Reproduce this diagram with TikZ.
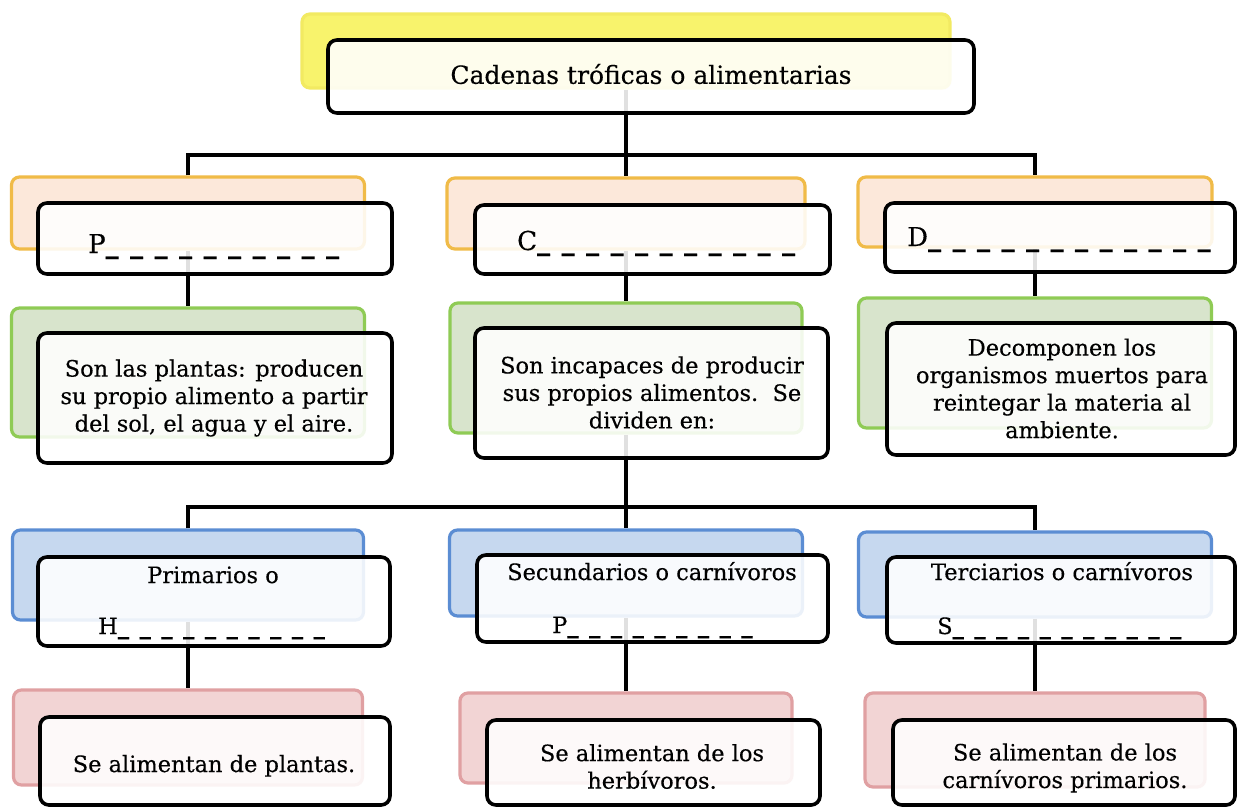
\documentclass[tikz,border=0pt]{standalone}
\usepackage{fontspec}
\setmainfont{DejaVu Serif}[FakeBold=0.35]
\definecolor{yeF}{HTML}{F8F36C}
\definecolor{yeD}{HTML}{F2EA62}
\definecolor{orF}{HTML}{FCE8DA}
\definecolor{orD}{HTML}{F0BB48}
\definecolor{grF}{HTML}{D8E4CC}
\definecolor{grD}{HTML}{8FCB55}
\definecolor{blF}{HTML}{C6D8EF}
\definecolor{blD}{HTML}{5B8DD3}
\definecolor{rdF}{HTML}{F2D4D4}
\definecolor{rdD}{HTML}{E0A0A2}
\newcommand\bigsp{\spaceskip=11.5pt\relax}
\newcommand\smallsp{\spaceskip=10.5pt\relax}
\newcommand\ub{{\bfseries\_}}
\begin{document}
\begin{tikzpicture}[x=1pt,y=-1pt,
  back/.style={line width=3.2pt, rounded corners=8pt, inner sep=0pt},
  front/.style={draw=black, line width=3.6pt, rounded corners=9pt, fill=white, fill opacity=0.88, inner sep=0pt},
  conn/.style={draw=black, line width=3.2pt},
  txt/.style={inner sep=0pt, font=\fontsize{22.5}{27.5}\selectfont, align=center},
  ttl/.style={inner sep=0pt, font=\fontsize{25}{30}\selectfont},
  bigblank/.style={inner sep=0pt, anchor=base west, font=\fontsize{26}{30}\selectfont},
  smallblank/.style={inner sep=0pt, anchor=base west, font=\fontsize{22.5}{27.5}\selectfont}
]
\fill[white] (0,0) rectangle (1238,809);
\path[use as bounding box] (0,0) rectangle (1238,809);

% coloured back boxes
\node[back, draw=yeD, fill=yeF, minimum width=648pt, minimum height=74pt] (y) at (626,51) {};
\node[back, draw=orD, fill=orF, minimum width=353pt, minimum height=72pt] (oL) at (188,213) {};
\node[back, draw=orD, fill=orF, minimum width=358pt, minimum height=71pt] (oM) at (626,213.5) {};
\node[back, draw=orD, fill=orF, minimum width=354pt, minimum height=70pt] (oR) at (1035,212) {};
\node[back, draw=grD, fill=grF, minimum width=353pt, minimum height=129pt] (gL) at (188,372.5) {};
\node[back, draw=grD, fill=grF, minimum width=352pt, minimum height=130pt] (gM) at (626,368) {};
\node[back, draw=grD, fill=grF, minimum width=353pt, minimum height=130pt] (gR) at (1035,363) {};
\node[back, draw=blD, fill=blF, minimum width=351pt, minimum height=90pt] (bL) at (188,575) {};
\node[back, draw=blD, fill=blF, minimum width=353pt, minimum height=86pt] (bM) at (626,573) {};
\node[back, draw=blD, fill=blF, minimum width=353pt, minimum height=85pt] (bR) at (1035,574.5) {};
\node[back, draw=rdD, fill=rdF, minimum width=349pt, minimum height=95pt] (rL) at (188,737.5) {};
\node[back, draw=rdD, fill=rdF, minimum width=332pt, minimum height=90pt] (rM) at (626,738) {};
\node[back, draw=rdD, fill=rdF, minimum width=340pt, minimum height=94pt] (rR) at (1035,740) {};

\coordinate (bar1) at (0,155);
\coordinate (bar2) at (0,507);

% connectors
\draw[conn] (y.south) -- (oM.north);
\draw[conn] (oL.north) -- (oL.north |- bar1) -- (oR.north |- bar1) -- (oR.north);
\draw[conn] (oL.south) -- (gL.north);
\draw[conn] (oM.south) -- (gM.north);
\draw[conn] (oR.south) -- (gR.north);
\draw[conn] (gM.south) -- (bM.north);
\draw[conn] (bL.north) -- (bL.north |- bar2) -- (bR.north |- bar2) -- (bR.north);
\draw[conn] (bL.south) -- (rL.north);
\draw[conn] (bM.south) -- (rM.north);
\draw[conn] (bR.south) -- (rR.north);

% white front boxes
\node[front, minimum width=646pt, minimum height=73pt] (fT) at (651,76.5) {};
\node[front, minimum width=354pt, minimum height=71pt] (fL1) at (215,238.5) {};
\node[front, minimum width=355pt, minimum height=69pt] (fM1) at (652.5,239.5) {};
\node[front, minimum width=350pt, minimum height=69pt] (fR1) at (1060,237.5) {};
\node[front, minimum width=354pt, minimum height=130pt] (fL2) at (215,398) {};
\node[front, minimum width=353pt, minimum height=130pt] (fM2) at (651.5,393) {};
\node[front, minimum width=348pt, minimum height=132pt] (fR2) at (1061,389) {};
\node[front, minimum width=352pt, minimum height=89pt] (fL3) at (214,601.5) {};
\node[front, minimum width=351pt, minimum height=87pt] (fM3) at (652.5,598.5) {};
\node[front, minimum width=348pt, minimum height=86pt] (fR3) at (1061,600) {};
\node[front, minimum width=350pt, minimum height=88pt] (fL4) at (215,761) {};
\node[front, minimum width=333pt, minimum height=85pt] (fM4) at (653.5,762.5) {};
\node[front, minimum width=342pt, minimum height=85pt] (fR4) at (1064,762.5) {};

% texts
\node[ttl] (tT) at (651,74) {Cadenas tróficas o alimentarias};
\node[bigblank] (tP) at (88,253) {\bigsp P\ub{} \ub{} \ub{} \ub{} \ub{} \ub{} \ub{} \ub{} \ub{} \ub{}};
\node[bigblank] (tC) at (517,250) {\bigsp C\ub{} \ub{} \ub{} \ub{} \ub{} \ub{} \ub{} \ub{} \ub{} \ub{} \ub{}};
\node[bigblank] (tD) at (907,246) {\bigsp D\ub{} \ub{} \ub{} \ub{} \ub{} \ub{} \ub{} \ub{} \ub{} \ub{} \ub{} \ub{}};
\node[txt] (tL2) at (214,398) {Son las plantas: producen\\su propio alimento a partir\\del sol, el agua y el aire.};
\node[txt] (tM2) at (652,392.5) {Son incapaces de producir\\sus propios alimentos.\ \ Se\\dividen en:};
\node[txt] (tR2) at (1062,388.5) {Decomponen los\\organismos muertos para\\reintegar la materia al\\ambiente.};
\node[txt, anchor=base] (tL3) at (213,583) {Primarios o};
\node[smallblank] (tH) at (98,634) {\smallsp H\ub{} \ub{} \ub{} \ub{} \ub{} \ub{} \ub{} \ub{} \ub{} \ub{}};
\node[txt, anchor=base] (tM3) at (652,580) {Secundarios o carnívoros};
\node[smallblank] (tP2) at (552,633) {\smallsp P\ub{} \ub{} \ub{} \ub{} \ub{} \ub{} \ub{} \ub{} \ub{}};
\node[txt, anchor=base] (tR3) at (1062,580) {Terciarios o carnívoros};
\node[smallblank] (tS) at (937,634) {\smallsp S\ub{} \ub{} \ub{} \ub{} \ub{} \ub{} \ub{} \ub{} \ub{} \ub{} \ub{}};
\node[txt, anchor=base] (tL4) at (214,772) {Se alimentan de plantas.};
\node[txt] (tM4) at (652,766.5) {Se alimentan de los\\herbívoros.};
\node[txt] (tR4) at (1065,768) {Se alimentan de los\\carnívoros primarios.};
\end{tikzpicture}
\end{document}
